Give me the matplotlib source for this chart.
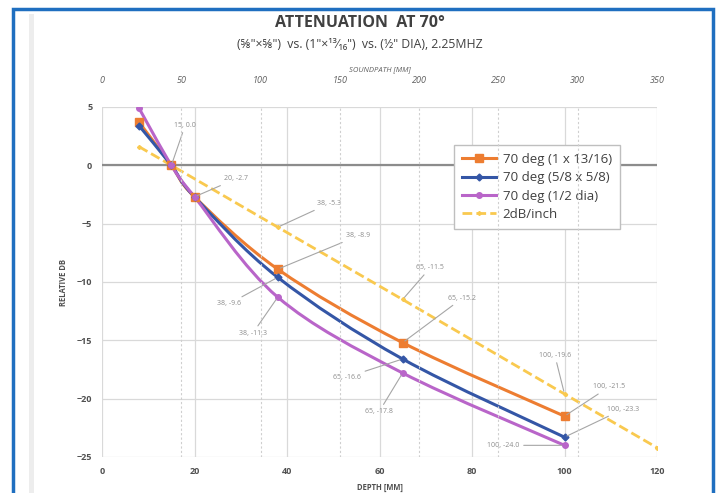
import numpy as np
import matplotlib
matplotlib.use("Agg")
import matplotlib.pyplot as plt
from matplotlib.path import Path
from matplotlib.patches import PathPatch, Rectangle
from matplotlib.lines import Line2D

plt.rcParams['font.family'] = ['Open Sans', 'DejaVu Sans']

# Data
depth = [8, 15, 20, 38, 65, 100]
db_rect = [3.7, 0.0, -2.7, -8.9, -15.2, -21.5]      # 70 deg (1 x 13/16)
db_square = [3.4, 0.0, -2.7, -9.6, -16.6, -23.3]    # 70 deg (5/8 x 5/8)
db_round = [4.9, 0.0, -2.7, -11.3, -17.8, -24.0]    # 70 deg (1/2 dia)
ref_depth = [8, 15, 38, 65, 100, 120]
ref_db = [1.6, 0.0, -5.3, -11.5, -19.6, -24.2]      # 2dB/inch

series_names = ["70 deg (1 x 13/16)", "70 deg (5/8 x 5/8)", "70 deg (1/2 dia)", "2dB/inch"]
colors = ["#ED7D31", "#3456A6", "#B965C9", "#F9C94F"]

depth_ticks = [0, 20, 40, 60, 80, 100, 120]
db_ticks = [5, 0, -5, -10, -15, -20, -25]
soundpath_ticks = [0, 50, 100, 150, 200, 250, 300, 350]

# labelled points: (x, y, text offset in points)
labels = [
    (15, 0.0, (10, 29)),
    (20, -2.7, (30, 13)),
    (38, -5.3, (37, 17)),
    (38, -8.9, (58, 24)),
    (38, -9.6, (-35, -19)),
    (38, -11.3, (-18, -26)),
    (65, -16.6, (-40, -13)),
    (65, -17.8, (-17, -28)),
    (65, -11.5, (20, 23)),
    (65, -15.2, (43, 32)),
    (100, -19.6, (-7, 28)),
    (100, -21.5, (32, 21)),
    (100, -23.3, (42, 20)),
    (100, -24.0, (-44, 0)),
]


def smooth_path(xs, ys):
    # Excel-like smoothed line (Catmull-Rom as cubic Bezier)
    pts = np.column_stack([xs, ys]).astype(float)
    n = len(pts)
    verts = [pts[0]]
    codes = [Path.MOVETO]
    for i in range(n - 1):
        p0 = pts[max(i - 1, 0)]
        p1 = pts[i]
        p2 = pts[i + 1]
        p3 = pts[min(i + 2, n - 1)]
        c1 = p1 + (p2 - p0) / 6.0
        c2 = p2 - (p3 - p1) / 6.0
        verts += [c1, c2, p2]
        codes += [Path.CURVE4] * 3
    return Path(verts, codes)


fig = plt.figure(figsize=(7.19, 4.93), dpi=100)

# blue frame and shadow strip
fig.patches.append(Rectangle((13 / 719, -0.1), 700 / 719, 1.1 - 9 / 493, transform=fig.transFigure,
                             fill=False, edgecolor="#1F6FC0", linewidth=2.5))
fig.patches.append(Rectangle((29 / 719, 0), 5 / 719, 1 - 14 / 493, transform=fig.transFigure,
                             facecolor="#EDEDED", edgecolor="none"))

ax = fig.add_axes([102 / 719, 1 - 457 / 493, 555 / 719, 350 / 493])
ax.set_xlim(0, 120)
ax.set_ylim(-25, 5)
ax.set_xticks(depth_ticks)
ax.set_yticks(db_ticks)
ax.grid(True, color="#D9D9D9", linewidth=0.9)
ax.set_axisbelow(True)
for s in ax.spines.values():
    s.set_visible(False)
ax.tick_params(length=0, labelsize=6.5, labelcolor="#505050", pad=7)
for t in ax.get_xticklabels() + ax.get_yticklabels():
    t.set_fontweight("bold")
ax.axhline(0, color="#8C8C8C", linewidth=1.6, zorder=1)
ax.set_xlabel("DEPTH [MM]", fontsize=5.5, fontweight="bold", color="#505050", labelpad=5)
ax.set_ylabel("RELATIVE DB", fontsize=5.5, fontweight="bold", color="#505050", labelpad=6)

# top soundpath axis
ax2 = ax.twiny()
ax2.set_xlim(0, 350)
ax2.set_xticks(soundpath_ticks)
ax2.tick_params(length=0, labelsize=6.5, labelcolor="#606060", pad=16)
for t in ax2.get_xticklabels():
    t.set_fontstyle("italic")
for s in ax2.spines.values():
    s.set_visible(False)
ax2.set_xlabel("SOUNDPATH [MM]", fontsize=5.5, fontstyle="italic", color="#606060", labelpad=3)
for sp in soundpath_ticks[1:-1]:
    ax2.axvline(sp, color="#CFCFCF", linewidth=0.8, linestyle=(0, (2, 2)), zorder=0)

# series
handles = []
markers = [("s", 6), ("D", 3.5), ("o", 4)]
for ys, name, c, (m, ms) in zip([db_rect, db_square, db_round], series_names[:3], colors[:3], markers):
    ax.add_patch(PathPatch(smooth_path(depth, ys), fill=False, edgecolor=c, linewidth=2.2, zorder=3))
    ax.plot(depth, ys, linestyle="none", marker=m, markersize=ms, color=c, zorder=4)
    handles.append(Line2D([], [], color=c, linewidth=2.2, marker=m, markersize=ms, label=name))

ax.plot(ref_depth, ref_db, color=colors[3], linewidth=2, linestyle=(0, (3.5, 1.5)), zorder=2,
        marker="D", markersize=2)
handles.append(Line2D([], [], color=colors[3], linewidth=2, linestyle=(0, (3.5, 1.5)),
                      marker="D", markersize=2, label=series_names[3]))

for x, y, off in labels:
    ax.annotate(f"{x}, {y:.1f}", xy=(x, y), xytext=off, textcoords="offset points",
                fontsize=5, color="#8C8C8C", ha="center", va="center",
                arrowprops=dict(arrowstyle="-", color="#A6A6A6", linewidth=0.8,
                                shrinkA=1, shrinkB=2), zorder=5)

leg = ax.legend(handles=handles, loc="upper left", bbox_to_anchor=(0.634, 0.891),
                borderaxespad=0, fontsize=9.5, frameon=True, fancybox=False,
                edgecolor="#BFBFBF", framealpha=1, handlelength=2.6, labelspacing=0.4,
                borderpad=0.6, handletextpad=0.5, labelcolor="#404040")
leg.set_zorder(6)

fig.text(0.5, 1 - 23 / 493, "ATTENUATION  AT 70°", ha="center", va="center",
         fontsize=11.5, fontweight="bold", color="#404040")
fig.text(0.5, 1 - 44 / 493, "(⅝\"×⅝\")  vs. (1\"×¹³⁄₁₆\")  vs. (½\" DIA), 2.25MHZ",
         ha="center", va="center", fontsize=8.8, color="#404040")

fig.savefig("out.png", dpi=100)
